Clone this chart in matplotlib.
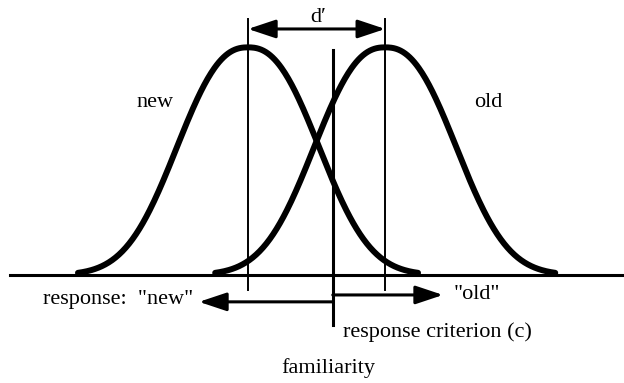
import numpy as np
import matplotlib.pyplot as plt

plt.rcParams['font.family'] = ['Liberation Serif', 'DejaVu Serif']

# distribution parameters (x in units of ~49 px)
means = [0.0, 2.8]
width = 1.824        # scale of each bump
shape = 2.4          # flatter top than a plain gaussian
cut = 3.47           # bumps drawn to +/- cut
criterion = 1.73
curve_labels = ["new", "old"]
label_pos = [(-1.90, 0.75), (4.90, 0.75)]


def bump(mu):
    x = np.linspace(mu - cut, mu + cut, 300)
    return x, np.exp(-np.abs((x - mu) / width) ** shape)


fig = plt.figure(figsize=(6.24, 3.83), dpi=100)
ax = fig.add_axes([0, 0, 1, 1])
ax.set_xlim(-5.061, 7.673)
ax.set_ylim(-0.470, 1.196)
ax.axis('off')

# baseline
ax.plot([-4.86, 7.673], [0, 0], color='k', lw=2.2, zorder=2)

for mu, lab, (lx, ly) in zip(means, curve_labels, label_pos):
    x, y = bump(mu)
    ax.plot(x, y * 0.99, color='k', lw=4.3, solid_capstyle='round', zorder=3)
    ax.plot([mu, mu], [-0.065, 1.113], color='k', lw=1.4, zorder=4)
    ax.text(lx, ly, lab, fontsize=16, ha='center', va='center')

# d' arrow
head = dict(arrowstyle='<|-|>,head_length=0.6,head_width=0.2', color='k',
            lw=2.2, mutation_scale=28, shrinkA=0, shrinkB=0)
ax.annotate('', xy=(means[0], 1.070), xytext=(means[1], 1.070), arrowprops=head)
ax.text(1.43, 1.118, "d\u2032", fontsize=16, ha='center', va='center')

# criterion and response arrows
ax.plot([criterion, criterion], [0.978, -0.217], color='k', lw=2.2, zorder=4)
one = dict(arrowstyle='-|>,head_length=0.6,head_width=0.2', color='k',
           lw=2.2, mutation_scale=28, shrinkA=0, shrinkB=0)
ax.annotate('', xy=(-1.00, -0.117), xytext=(criterion, -0.117), arrowprops=one)
ax.annotate('', xy=(3.98, -0.087), xytext=(criterion, -0.087), arrowprops=one)

ax.text(-1.12, -0.108, 'response:  "new"', fontsize=16, ha='right', va='center')
ax.text(4.20, -0.087, '"old"', fontsize=16, ha='left', va='center')
ax.text(1.94, -0.248, 'response criterion (c)', fontsize=16, ha='left', va='center')
ax.text(1.63, -0.405, 'familiarity', fontsize=16, ha='center', va='center')

fig.savefig('out.png', dpi=100)
